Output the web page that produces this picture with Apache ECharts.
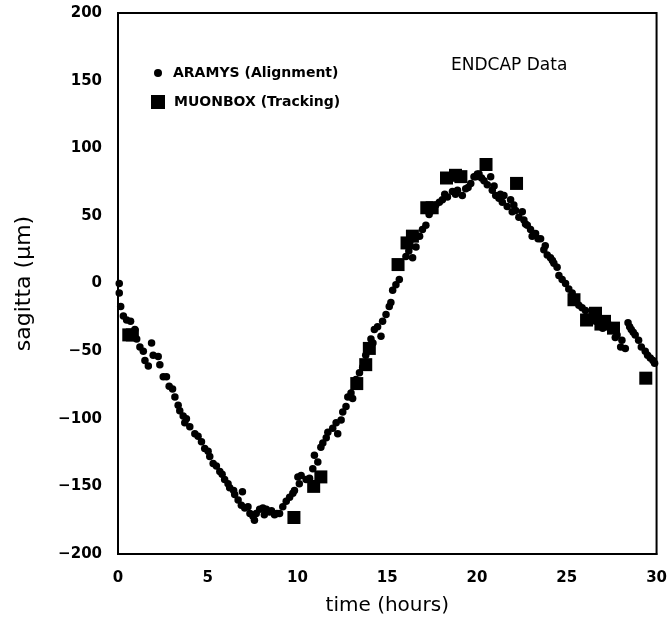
<!DOCTYPE html>
<html>
<head>
<meta charset="utf-8">
<script src="https://cdn.jsdelivr.net/npm/echarts@6/dist/echarts.min.js"></script>
<style>
html,body{margin:0;padding:0;background:#fff;}
#chart{width:670px;height:626px;}
</style>
</head>
<body>
<div id="chart"></div>
<script>
// ---- data ----
var xTicks = [0, 5, 10, 15, 20, 25, 30];
var yTicks = [-200, -150, -100, -50, 0, 50, 100, 150, 200];

var aramysTime = [0.07,0.07,0.15,0.3,0.48,0.7,0.94,1.04,1.22,1.41,1.5,1.69,1.87,1.96,2.24,2.33,2.52,2.7,2.85,3.04,3.17,3.35,3.44,3.63,3.72,3.81,4.0,4.28,4.46,4.65,4.83,5.02,5.11,5.3,5.48,5.67,5.8,5.94,6.13,6.22,6.44,6.5,6.69,6.87,6.93,7.06,7.24,7.35,7.52,7.6,7.7,7.89,8.07,8.15,8.26,8.44,8.55,8.72,8.85,9.0,9.18,9.37,9.56,9.74,9.83,10.02,10.1,10.2,10.48,10.67,10.85,10.94,11.13,11.3,11.41,11.6,11.69,11.96,12.15,12.24,12.43,12.52,12.7,12.8,12.98,13.07,13.26,13.45,13.63,13.8,13.95,14.09,14.2,14.28,14.46,14.65,14.74,14.93,15.11,15.2,15.3,15.48,15.67,16.04,16.2,16.41,16.6,16.8,16.96,17.15,17.33,17.5,17.7,17.9,18.07,18.2,18.35,18.63,18.8,18.91,19.18,19.37,19.5,19.65,19.83,19.93,20.02,20.11,20.25,20.39,20.57,20.76,20.85,20.95,21.04,21.22,21.3,21.41,21.5,21.68,21.87,21.96,22.05,22.15,22.33,22.52,22.61,22.7,22.8,22.98,23.07,23.26,23.4,23.54,23.72,23.8,23.91,24.09,24.2,24.28,24.46,24.56,24.74,24.93,25.11,25.3,25.5,25.67,25.85,26.04,26.2,26.41,26.6,26.78,27.0,27.15,27.3,27.52,27.7,27.8,28.0,28.07,28.26,28.41,28.5,28.59,28.7,28.81,29.0,29.15,29.37,29.5,29.65,29.8,29.89];
var aramysSagitta = [0,-7,-17,-24,-27,-28,-34,-41,-47,-50,-57,-61,-44,-53,-54,-60,-69,-69,-76,-78,-84,-90,-94,-98,-103,-100,-106,-111,-113,-117,-122,-124,-128,-133,-135,-139,-141,-145,-148,-151,-153,-156,-160,-164,-154,-166,-165,-170,-172,-175,-170,-167,-166,-171,-167,-169,-168,-171,-170,-170,-165,-161,-158,-155,-153,-143,-148,-142,-145,-144,-137,-127,-132,-121,-118,-114,-110,-107,-103,-111,-101,-95,-91,-84,-81,-85,-71,-66,-62,-53,-48,-41,-44,-34,-32,-39,-28,-23,-17,-14,-5,-1,3,20,24,19,27,35,40,43,51,54,58,60,62,66,64,68,66,69,65,70,71,74,79,79,81,81,78,76,73,79,69,72,65,63,66,60,65,57,62,53,58,54,49,53,47,44,43,40,35,37,33,33,25,28,21,19,17,15,12,6,3,0,-4,-7,-11,-16,-18,-20,-25,-23,-28,-27,-33,-31,-30,-34,-40,-38,-47,-42,-48,-29,-32,-34,-36,-38,-42,-47,-50,-53,-55,-57,-59];

var muonTime = [0.6,0.8,9.8,10.9,11.3,13.3,13.8,14.0,15.6,16.1,16.4,17.2,17.5,18.3,18.8,19.1,20.5,22.2,25.4,26.1,26.6,26.9,27.1,27.6,29.4];
var muonSagitta = [-38,-38,-173,-150,-143,-74,-60,-48,14,30,35,56,56,78,80,79,88,74,-12,-27,-22,-30,-28,-33,-70];

var seriesNames = ['ARAMYS (Alignment)', 'MUONBOX (Tracking)'];
var panelTitle = 'ENDCAP Data';
var xTitle = 'time (hours)';
var yTitle = 'sagitta (\u03bcm)';

function pairs(xs, ys) { return xs.map(function (x, i) { return [x, ys[i]]; }); }

var FONT = '"DejaVu Sans", sans-serif';
var chart = echarts.init(document.getElementById('chart'), null, {renderer: 'canvas'});
chart.setOption({
  animation: false,
  backgroundColor: '#fff',
  grid: {left: 118, right: 12, top: 13, bottom: 72, show: true, borderColor: '#000', borderWidth: 2, backgroundColor: 'transparent'},
  title: {
    text: panelTitle, left: 446, top: 52,
    textStyle: {fontFamily: FONT, fontSize: 17, fontWeight: 'normal', color: '#000'}
  },
  legend: [
    {
      data: [seriesNames[0]], left: 149, top: 61, itemWidth: 8, itemHeight: 8, icon: 'circle',
      itemStyle: {opacity: 1},
      textStyle: {fontFamily: FONT, fontSize: 14, fontWeight: 'bold', color: '#000', padding: [0, 0, 0, 6]}
    },
    {
      data: [seriesNames[1]], left: 146, top: 90, itemWidth: 14, itemHeight: 14, icon: 'rect',
      itemStyle: {opacity: 1},
      textStyle: {fontFamily: FONT, fontSize: 14, fontWeight: 'bold', color: '#000', padding: [0, 0, 0, 4]}
    }
  ],
  xAxis: {
    type: 'value', min: xTicks[0], max: xTicks[xTicks.length - 1], interval: xTicks[1] - xTicks[0],
    name: xTitle, nameLocation: 'middle', nameGap: 42,
    nameTextStyle: {fontFamily: FONT, fontSize: 20, color: '#000'},
    axisLine: {show: true, onZero: false, lineStyle: {color: '#000', width: 2}},
    axisTick: {show: false},
    splitLine: {show: false},
    axisLabel: {fontFamily: FONT, fontSize: 15, fontWeight: 'bold', color: '#000', margin: 17}
  },
  yAxis: {
    type: 'value', min: yTicks[0], max: yTicks[yTicks.length - 1], interval: yTicks[1] - yTicks[0],
    name: yTitle, nameLocation: 'middle', nameGap: 83, nameRotate: 90,
    nameTextStyle: {fontFamily: FONT, fontSize: 22, color: '#000'},
    axisLine: {show: true, onZero: false, lineStyle: {color: '#000', width: 2}},
    axisTick: {show: false},
    splitLine: {show: false},
    axisLabel: {fontFamily: FONT, fontSize: 15, fontWeight: 'bold', color: '#000', margin: 16,
      formatter: function (v) { return String(v).replace('-', '\u2212'); }}
  },
  series: [
    {
      name: seriesNames[0], type: 'scatter', symbol: 'circle', symbolSize: 7.5,
      itemStyle: {color: '#000', opacity: 1}, data: pairs(aramysTime, aramysSagitta), z: 2
    },
    {
      name: seriesNames[1], type: 'scatter', symbol: 'rect', symbolSize: 13,
      itemStyle: {color: '#000', opacity: 1}, data: pairs(muonTime, muonSagitta), z: 3
    }
  ]
});
</script>
</body>
</html>
